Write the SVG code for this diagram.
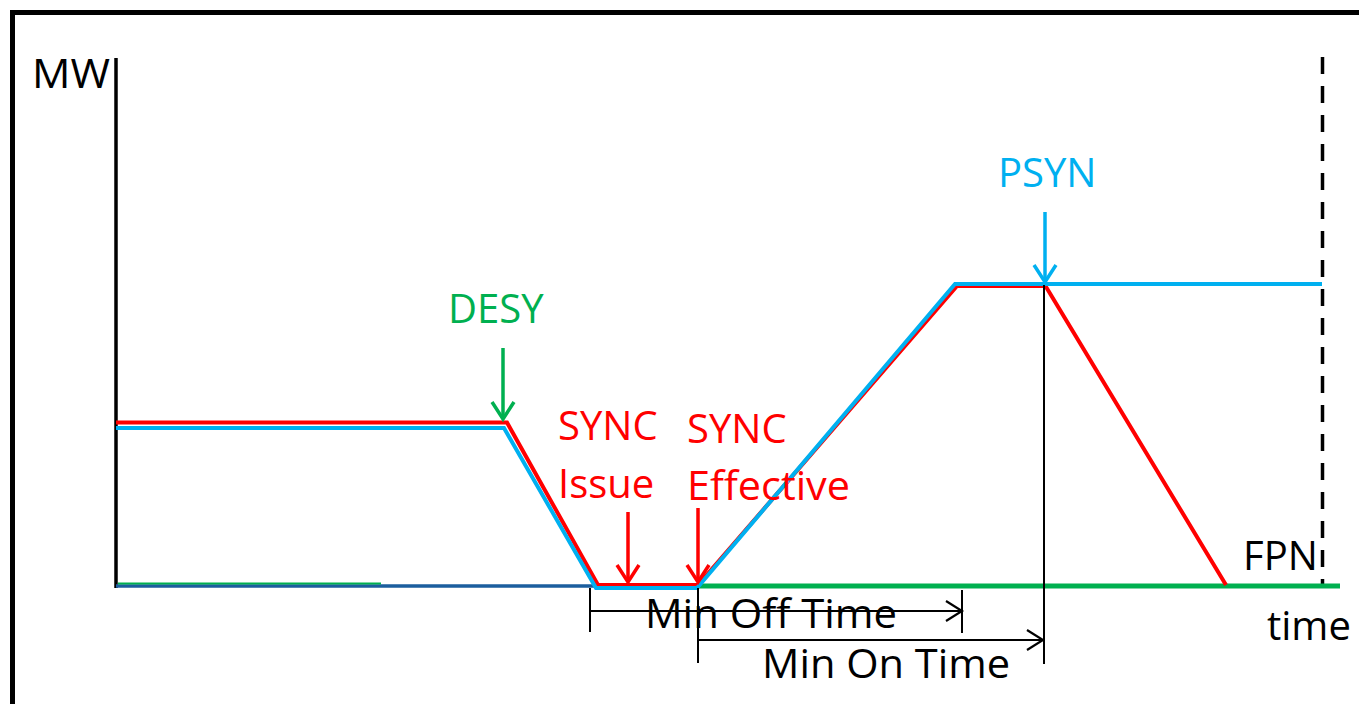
<svg xmlns="http://www.w3.org/2000/svg" width="1359" height="704" viewBox="0 0 1359 704">
<style>
text{font-family:"Open Sans","Liberation Sans",sans-serif;font-size:40px}
.k{fill:#000}.r{fill:#FF0000}.g{fill:#00B050}.b{fill:#00B0F0}
.ln{fill:none;stroke-linejoin:miter;stroke-linecap:butt}
</style>
<defs>
<marker id="hr" markerUnits="userSpaceOnUse" markerWidth="30" markerHeight="30" refX="19" refY="12" orient="auto" viewBox="0 0 30 24"><path d="M2,1 L19,12 L2,23" fill="none" stroke="#FF0000" stroke-width="3.5"/></marker>
<marker id="hg" markerUnits="userSpaceOnUse" markerWidth="30" markerHeight="30" refX="19" refY="12" orient="auto" viewBox="0 0 30 24"><path d="M2,1 L19,12 L2,23" fill="none" stroke="#00B050" stroke-width="3.5"/></marker>
<marker id="hb" markerUnits="userSpaceOnUse" markerWidth="30" markerHeight="30" refX="19" refY="12" orient="auto" viewBox="0 0 30 24"><path d="M2,1 L19,12 L2,23" fill="none" stroke="#00B0F0" stroke-width="3.5"/></marker>
<marker id="hk" markerUnits="userSpaceOnUse" markerWidth="30" markerHeight="30" refX="18" refY="11" orient="auto" viewBox="0 0 30 22"><path d="M2,1 L18,11 L2,21" fill="none" stroke="#000" stroke-width="2.2"/></marker>
</defs>
<rect width="1359" height="704" fill="#fff"/>
<g id="frame">
<path d="M12.5,710 V12.5 H1365" fill="none" stroke="#000" stroke-width="5"/>
</g>
<g id="axes">
<line x1="116" y1="58" x2="116" y2="588" stroke="#000" stroke-width="3.5"/>
<line x1="1322.5" y1="57" x2="1322.5" y2="586" stroke="#000" stroke-width="3.5" stroke-dasharray="17 12"/>
<text id="mw" x="32" y="88" class="k" textLength="78" lengthAdjust="spacingAndGlyphs">MW</text>
<text id="time" x="1267" y="640" class="k">time</text>
</g>
<g id="connectors">
<line x1="116" y1="586" x2="1340" y2="586" stroke="#1B5E9E" stroke-width="3.5"/>
<line x1="118" y1="583.5" x2="381" y2="583.5" stroke="#00B050" stroke-width="1.8"/>
<line x1="697" y1="586" x2="1340" y2="586" stroke="#00B050" stroke-width="5"/>
<path class="ln" d="M116,422.5 H507 L598,585 H698 L957,286 H1045.5 L1226,585" stroke="#FF0000" stroke-width="4"/>
<path class="ln" d="M116,428 H504 L596,588 H697 L955,284 H1322" stroke="#00B0F0" stroke-width="4"/>
<line x1="1044" y1="285" x2="1044" y2="664" stroke="#000" stroke-width="2"/>
<line x1="590" y1="588" x2="590" y2="632" stroke="#000" stroke-width="2"/>
<line x1="962" y1="590" x2="962" y2="633" stroke="#000" stroke-width="2"/>
<line x1="590" y1="611" x2="962" y2="611" stroke="#000" stroke-width="2" marker-end="url(#hk)"/>
<line x1="698" y1="588" x2="698" y2="663" stroke="#000" stroke-width="2"/>
<line x1="698" y1="640" x2="1043" y2="640" stroke="#000" stroke-width="2" marker-end="url(#hk)"/>
<line x1="503" y1="348" x2="503" y2="419" stroke="#00B050" stroke-width="3.5" marker-end="url(#hg)"/>
<line x1="628" y1="512" x2="628" y2="582" stroke="#FF0000" stroke-width="3.5" marker-end="url(#hr)"/>
<line x1="698" y1="508" x2="698" y2="582" stroke="#FF0000" stroke-width="3.5" marker-end="url(#hr)"/>
<line x1="1045" y1="212" x2="1045" y2="282" stroke="#00B0F0" stroke-width="3.5" marker-end="url(#hb)"/>
</g>
<g id="desy"><text x="448" y="323" class="g">DESY</text></g>
<g id="sync-issue"><text x="558" y="440" class="r">SYNC</text><text x="558" y="498" class="r">Issue</text></g>
<g id="sync-effective"><text x="687" y="443" class="r">SYNC</text><text x="687" y="500" class="r" textLength="163" lengthAdjust="spacingAndGlyphs">Effective</text></g>
<g id="psyn"><text x="998" y="187" class="b">PSYN</text></g>
<g id="fpn"><text x="1243" y="570" class="k">FPN</text></g>
<g id="min-off"><text x="645" y="628" class="k" textLength="252" lengthAdjust="spacingAndGlyphs">Min Off Time</text></g>
<g id="min-on"><text x="762" y="678" class="k" textLength="248" lengthAdjust="spacingAndGlyphs">Min On Time</text></g>
</svg>
